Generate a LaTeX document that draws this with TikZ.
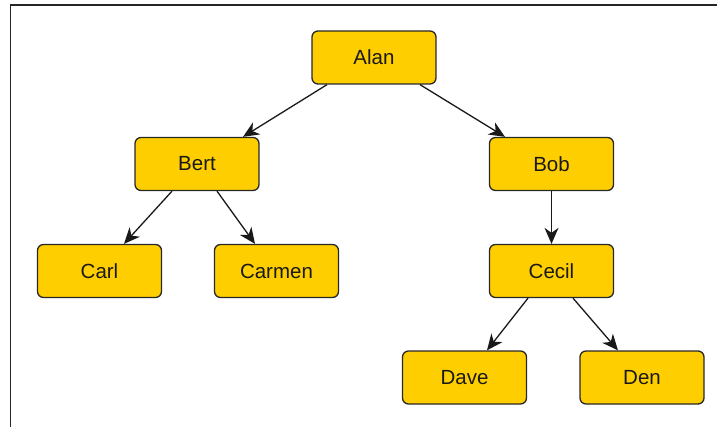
\documentclass[tikz,border=0pt]{standalone}
\usepackage{fontspec}
\setmainfont{Liberation Sans}
\usetikzlibrary{arrows.meta}
\definecolor{boxfill}{RGB}{255,206,0}
\definecolor{boxline}{RGB}{40,40,40}
\tikzset{
  person/.style={draw=boxline, fill=boxfill, line width=1.3pt, rounded corners=6pt,
    minimum width=124pt, minimum height=53pt, inner sep=0pt,
    font=\fontsize{20.5}{24}\selectfont, text=black!90},
  link/.style={-{Stealth[length=16pt,width=14pt,inset=5pt]}, line width=1.3pt, draw=black!90},
  frameline/.style={line width=1.5pt, draw=black!85}
}
\begin{document}
\begin{tikzpicture}[x=1pt,y=-1pt]
\useasboundingbox (0,0) rectangle (717,427);
\coordinate (fA) at (10.5,427);
\coordinate (fB) at (10.5,5);
\coordinate (fC) at (717,5);
\draw[frameline] (fA) -- (fB) -- (fC);
\node[person] (alan) at (374,57.5) {Alan};
\node[person] (bert) at (197,164) {Bert};
\node[person] (bob) at (551.5,164) {Bob};
\node[person] (carl) at (99.5,271) {Carl};
\node[person] (carmen) at (276.5,271) {Carmen};
\node[person] (cecil) at (551.5,271) {Cecil};
\node[person] (dave) at (464.5,377.5) {Dave};
\node[person] (den) at (642,377.5) {Den};
\draw[link] ([xshift=-47pt]alan.south) -- ([xshift=46pt]bert.north);
\draw[link] ([xshift=46pt]alan.south) -- ([xshift=-46.5pt]bob.north);
\draw[link] ([xshift=-25pt]bert.south) -- ([xshift=24.5pt]carl.north);
\draw[link] ([xshift=20pt]bert.south) -- ([xshift=-21.5pt]carmen.north);
\draw[link] (bob.south) -- (cecil.north);
\draw[link] ([xshift=-23.5pt]cecil.south) -- ([xshift=22.5pt]dave.north);
\draw[link] ([xshift=21.5pt]cecil.south) -- ([xshift=-24pt]den.north);
\end{tikzpicture}
\end{document}
